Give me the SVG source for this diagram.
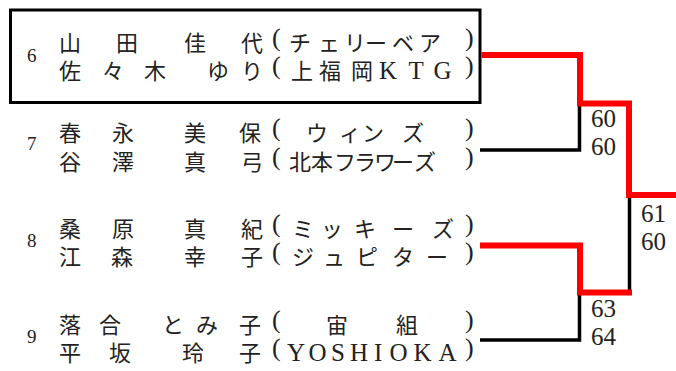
<svg xmlns="http://www.w3.org/2000/svg" width="676" height="371" viewBox="0 0 676 371">
<style>
.t{font-family:"Liberation Serif","Noto Sans CJK JP",serif;font-size:22px;fill:#222;}
.p{font-size:26px;}
.l{font-size:25px;}
.n{font-family:"Liberation Serif",serif;font-size:19px;fill:#222;}
.s{font-family:"Liberation Serif",serif;font-size:25px;fill:#222;}
.bk{fill:none;stroke:#000;stroke-width:3.5;stroke-linejoin:miter;stroke-linecap:butt;}
.rd{fill:none;stroke:#f00;stroke-width:6;stroke-linejoin:miter;stroke-linecap:butt;}
</style>
<rect width="676" height="371" fill="#fff"/>
<g id="entry-6">
<rect x="10.5" y="10" width="469.5" height="92.5" fill="none" stroke="#000" stroke-width="3"/>
<text class="n" x="27" y="62">6</text>
<text class="t" y="51"><tspan x="59 116 184 241">山田佳代</tspan><tspan class="p" x="272" y="46">(</tspan><tspan x="289 318 344 365 392 419" y="51">チェリーベア</tspan><tspan class="p" x="465" y="46">)</tspan></text>
<text class="t" y="79"><tspan x="59 102 144 207 241">佐々木ゆり</tspan><tspan class="p" x="272" y="74">(</tspan><tspan x="291 319 351" y="79">上福岡</tspan><tspan class="l" x="379 408.5 433.5" y="79">KTG</tspan><tspan class="p" x="465" y="74">)</tspan></text>
</g>
<g id="entry-7">
<text class="n" x="27" y="150">7</text>
<text class="t" y="141"><tspan x="59 112 184 239">春永美保</tspan><tspan class="p" x="272" y="136">(</tspan><tspan x="306 339 362 402" y="141">ウィンズ</tspan><tspan class="p" x="465" y="136">)</tspan></text>
<text class="t" y="170"><tspan x="59 112 184 241">谷澤真弓</tspan><tspan class="p" x="272" y="165">(</tspan><tspan x="289 311 334 354 374 392 414" y="170">北本フラワーズ</tspan><tspan class="p" x="465" y="165">)</tspan></text>
</g>
<g id="entry-8">
<text class="n" x="27" y="247">8</text>
<text class="t" y="237"><tspan x="59 112 184 241">桑原真紀</tspan><tspan class="p" x="272" y="232">(</tspan><tspan x="292 321 354 392 432" y="237">ミッキーズ</tspan><tspan class="p" x="465" y="232">)</tspan></text>
<text class="t" y="265"><tspan x="59 111 184 241">江森幸子</tspan><tspan class="p" x="272" y="260">(</tspan><tspan x="292 323 356 392 426" y="265">ジュピター</tspan><tspan class="p" x="465" y="260">)</tspan></text>
</g>
<g id="entry-9">
<text class="n" x="27" y="343">9</text>
<text class="t" y="333"><tspan x="59 99 162 196 239">落合とみ子</tspan><tspan class="p" x="272" y="328">(</tspan><tspan x="326 396" y="333">宙組</tspan><tspan class="p" x="465" y="328">)</tspan></text>
<text class="t" y="361"><tspan x="59 109 182 239">平坂玲子</tspan><tspan class="p" x="272" y="356">(</tspan><tspan class="l" x="287 308.5 331 350 374 389.5 413.5 438.5" y="361">YOSHIOKA</tspan><tspan class="p" x="465" y="356">)</tspan></text>
</g>
<g id="connectors">
<path class="bk" d="M480 150 H579.5 V106"/>
<path class="bk" d="M480 340 H579.5 V295"/>
<path class="bk" d="M629.5 292 V197"/>
<path class="rd" d="M481.5 55 H580 V103.5 H629 V195 H676"/>
<path class="rd" d="M480 245.5 H580 V292.5 H632"/>
</g>
<g id="scores">
<text class="s" x="591" y="127">60</text>
<text class="s" x="591" y="155">60</text>
<text class="s" x="641" y="222">61</text>
<text class="s" x="641" y="250">60</text>
<text class="s" x="591" y="317">63</text>
<text class="s" x="591" y="345">64</text>
</g>
</svg>
